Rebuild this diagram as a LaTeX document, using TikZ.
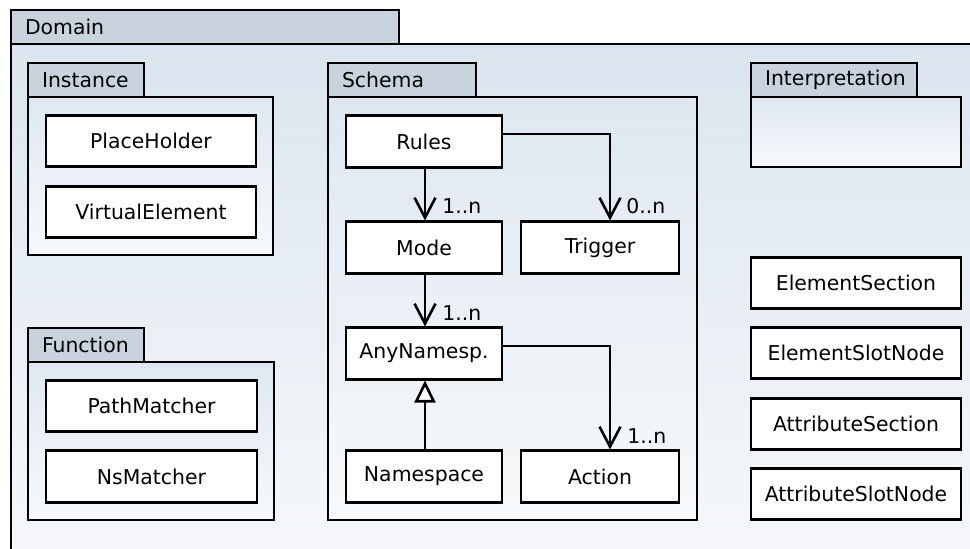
\documentclass[tikz,border=0pt]{standalone}
\usepackage{fontspec}
\setmainfont{DejaVu Sans}
\usetikzlibrary{arrows.meta}
\definecolor{tabfill}{RGB}{201,211,222}
\definecolor{pkgtop}{RGB}{219,229,239}
\definecolor{pkgbot}{RGB}{249,250,252}
\definecolor{inntop}{RGB}{222,231,241}
\definecolor{innbot}{RGB}{247,249,251}

\begin{document}
\begin{tikzpicture}[x=1pt,y=-1pt,line width=2.6pt,
  every node/.style={font=\fontsize{20.4}{24}\selectfont},
  pkgtab/.style={draw,fill=tabfill,anchor=north west,outer sep=0pt,
    inner xsep=14pt,inner ysep=0pt,minimum height=34pt,align=left},
  pkgbody/.style={draw,top color=inntop,bottom color=innbot,anchor=north west,
    outer sep=0pt,inner sep=0pt},
  cls/.style={draw,fill=white,inner sep=0pt,minimum height=51.5pt},
  mult/.style={anchor=west,inner sep=0pt},
  assoc/.style={-{Straight Barb[length=20pt,width=21pt]}},
  generalization/.style={-{Triangle[length=22pt,width=21pt,fill=white]}}]

\useasboundingbox (0,0) rectangle (970,549);
\fill[white] (0,0) rectangle (970,549);
\clip (0,0) rectangle (970,549);

% Domain package (its body runs past the page edge)
\node[pkgbody,top color=pkgtop,bottom color=pkgbot,
  minimum width=1000pt,minimum height=570pt] (domainbody) at (11,44) {};
\node[pkgtab,text width=360pt] (domaintab) at (11,10) {Domain};

% Instance package
\node[pkgbody,minimum width=245pt,minimum height=158pt] (instbody) at (28,97) {};
\node[pkgtab,text width=88pt] (insttab) at (28,63) {Instance};
\node[cls,minimum width=210pt] (placeholder) at (151,141) {PlaceHolder};
\node[cls,minimum width=210pt] (virtual) at (151,212) {VirtualElement};

% Function package
\node[pkgbody,minimum width=246pt,minimum height=158pt] (funcbody) at (28,362) {};
\node[pkgtab,text width=88pt] (functab) at (28,328) {Function};
\node[cls,minimum width=211pt] (pathmatcher) at (151.5,406) {PathMatcher};
\node[cls,minimum width=211pt] (nsmatcher) at (151.5,476.5) {NsMatcher};

% Schema package
\node[pkgbody,minimum width=369pt,minimum height=423pt] (schemabody) at (328,97) {};
\node[pkgtab,text width=120pt] (schematab) at (328,63) {Schema};
\node[cls,minimum width=156pt] (rules) at (424,141.5) {Rules};
\node[cls,minimum width=156pt] (mode) at (424,247.5) {Mode};
\node[cls,minimum width=158pt] (trigger) at (600,247.5) {Trigger};
\node[cls,minimum width=156pt] (anyns) at (424,353.5) {AnyNamesp.};
\node[cls,minimum width=156pt] (namespace) at (424,476.5) {Namespace};
\node[cls,minimum width=158pt] (action) at (600,476.5) {Action};

% Interpretation package
\node[pkgbody,minimum width=210pt,minimum height=70pt] (interpbody) at (751,97) {};
\node[pkgtab,text width=138pt] (interptab) at (751,63) {Interpretation};

% Loose classes
\node[cls,minimum width=210pt] (elemsection) at (856,283) {ElementSection};
\node[cls,minimum width=210pt] (elemslot) at (856,353) {ElementSlotNode};
\node[cls,minimum width=210pt] (attrsection) at (856,424) {AttributeSection};
\node[cls,minimum width=210pt] (attrslot) at (856,494) {AttributeSlotNode};

% Associations
\draw[assoc] ([xshift=1pt]rules.south) -- ([xshift=1pt]mode.north);
\node[mult] (m1) at (441,206) {1..n};
\draw[assoc] ([yshift=7.5pt]rules.east) -| ([xshift=10pt]trigger.north);
\node[mult] (m2) at (625,206) {0..n};
\draw[assoc] ([xshift=1pt]mode.south) -- ([xshift=1pt]anyns.north);
\node[mult] (m3) at (441,313) {1..n};
\draw[assoc] ([yshift=7.5pt]anyns.east) -| ([xshift=10pt]action.north);
\node[mult] (m4) at (626,436) {1..n};

% Generalization
\draw[generalization] ([xshift=1pt]namespace.north) -- ([xshift=1pt]anyns.south);
\end{tikzpicture}
\end{document}
